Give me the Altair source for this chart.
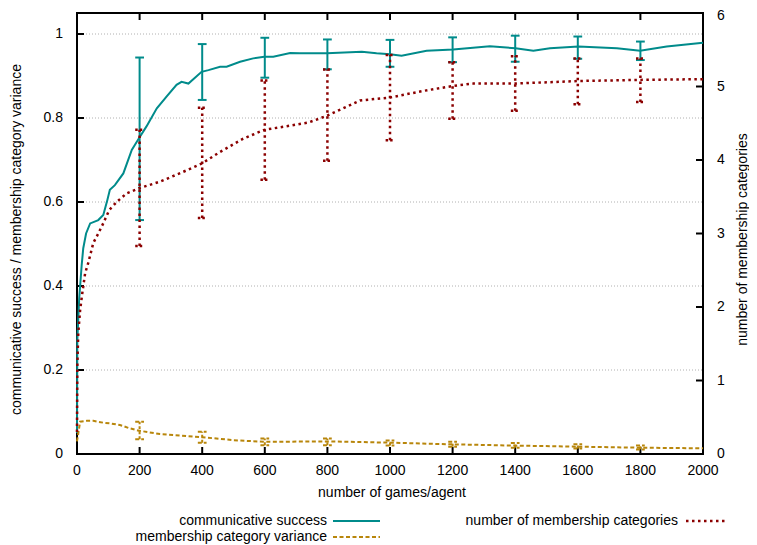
import altair as alt
import pandas as pd

# ---------------- data ----------------
cs_x = [0, 1, 7, 15, 20, 29, 42, 68, 84, 97, 105, 121, 148, 175, 198, 222, 255, 286, 318, 334, 356,
        398, 420, 457, 478, 521, 563, 598, 627, 681, 712, 744, 798, 910, 957, 1000, 1037, 1117, 1202,
        1319, 1401, 1458, 1511, 1602, 1725, 1799, 1884, 2000]
cs_y = [0.05, 0.27, 0.37, 0.45, 0.49, 0.525, 0.549, 0.557, 0.569, 0.605, 0.629, 0.64, 0.668, 0.724,
        0.752, 0.78, 0.823, 0.851, 0.879, 0.886, 0.882, 0.91, 0.914, 0.922, 0.922, 0.934, 0.942, 0.946,
        0.946, 0.955, 0.954, 0.954, 0.954, 0.958, 0.954, 0.952, 0.948, 0.96, 0.963, 0.971, 0.966, 0.960,
        0.966, 0.970, 0.966, 0.960, 0.970, 0.979]

nc_x = [0, 1, 4, 10, 17, 26, 36, 52, 68, 84, 103, 127, 159, 198, 265, 340, 400, 457, 531, 598, 670,
        739, 798, 904, 1000, 1106, 1200, 1266, 1401, 1602, 1801, 2000]
nc_y = [0.3, 1.19, 1.64, 1.96, 2.19, 2.46, 2.6, 2.87, 3.0, 3.14, 3.32, 3.43, 3.547, 3.615, 3.705, 3.84,
        3.955, 4.11, 4.29, 4.41, 4.46, 4.51, 4.60, 4.81, 4.85, 4.94, 5.007, 5.04, 5.04, 5.075, 5.09, 5.10]

mv_x = [0, 10, 31, 52, 84, 105, 137, 169, 198, 265, 400, 499, 598, 798, 872, 1000, 1200, 1399, 1597,
        1799, 2000]
mv_y = [0.03, 0.077, 0.079, 0.079, 0.0745, 0.073, 0.069, 0.061, 0.0555, 0.0476, 0.040, 0.033, 0.029,
        0.030, 0.029, 0.027, 0.023, 0.020, 0.0175, 0.015, 0.0135]

eb_x = [200, 400, 600, 800, 1000, 1200, 1400, 1600, 1800]
cs_lo = [0.557, 0.843, 0.896, 0.916, 0.922, 0.933, 0.934, 0.941, 0.938]
cs_hi = [0.944, 0.976, 0.991, 0.987, 0.986, 0.992, 0.996, 0.994, 0.982]
nc_lo = [2.83, 3.21, 3.73, 3.99, 4.27, 4.56, 4.67, 4.76, 4.79]
nc_hi = [4.41, 4.71, 5.08, 5.23, 5.43, 5.33, 5.41, 5.38, 5.38]
mv_lo = [0.035, 0.027, 0.021, 0.021, 0.020, 0.017, 0.015, 0.013, 0.011]
mv_hi = [0.077, 0.053, 0.037, 0.037, 0.032, 0.029, 0.026, 0.023, 0.020]

x_ticks = [0, 200, 400, 600, 800, 1000, 1200, 1400, 1600, 1800, 2000]
yl_ticks = [0, 0.2, 0.4, 0.6, 0.8, 1.0]
yr_ticks = [0, 1, 2, 3, 4, 5, 6]

series_labels = ["communicative success", "membership category variance",
                 "number of membership categories"]
x_title = "number of games/agent"
yl_title = "communicative success / membership category variance"
yr_title = "number of membership categories"

# ---------------- styling ----------------
W, H = 626, 441
FONT = "Liberation Sans"
FS = 14
TEAL = "#008b8b"
GOLD = "#b8860b"
RED = "#8b0000"
CAP = 14  # half cap width in data units

XS = alt.Scale(domain=[0, 2000], nice=False, zero=False)
YL = alt.Scale(domain=[0, 1.05], nice=False)
YR = alt.Scale(domain=[0, 6], nice=False)

cs_df = pd.DataFrame({"x": cs_x, "y": cs_y})
nc_df = pd.DataFrame({"x": nc_x, "y": nc_y})
mv_df = pd.DataFrame({"x": mv_x, "y": mv_y})
eb_df = pd.DataFrame({"x": eb_x, "cs_lo": cs_lo, "cs_hi": cs_hi, "nc_lo": nc_lo,
                      "nc_hi": nc_hi, "mv_lo": mv_lo, "mv_hi": mv_hi})
xt_df = pd.DataFrame({"x": x_ticks})
ylt_df = pd.DataFrame({"y": yl_ticks})
yrt_df = pd.DataFrame({"y": yr_ticks})
one = pd.DataFrame({"a": [0]})


def X(field="x"):
    return alt.X(f"{field}:Q", scale=XS, axis=None)


def YLf(field):
    return alt.Y(f"{field}:Q", scale=YL, axis=None)


def YRf(field):
    return alt.Y(f"{field}:Q", scale=YR, axis=None)


def txt(**kw):
    base = dict(font=FONT, fontSize=FS, color="black")
    base.update(kw)
    return base


# ---- left-axis group ----
grid = alt.Chart(ylt_df).transform_filter("datum.y > 0").mark_rule(
    color="#b0b0b0", strokeWidth=1, strokeDash=[1, 2]).encode(
    y=YLf("y"), x=alt.value(0), x2=alt.value(W))

cs_line = alt.Chart(cs_df).mark_line(color=TEAL, strokeWidth=2).encode(x=X(), y=YLf("y"))
cs_err = alt.Chart(eb_df).mark_rule(color=TEAL, strokeWidth=2).encode(
    x=X(), y=YLf("cs_lo"), y2="cs_hi:Q")
cs_caps = alt.Chart(eb_df).transform_fold(["cs_lo", "cs_hi"], as_=["k", "v"]).transform_calculate(
    xa=f"datum.x - {CAP}", xb=f"datum.x + {CAP}"
).mark_rule(color=TEAL, strokeWidth=2).encode(x=X("xa"), x2="xb:Q", y=YLf("v"))

mv_line = alt.Chart(mv_df).mark_line(color=GOLD, strokeWidth=2, strokeDash=[4, 2.5]).encode(
    x=X(), y=YLf("y"))
mv_err = alt.Chart(eb_df).mark_rule(color=GOLD, strokeWidth=2, strokeDash=[3, 2]).encode(
    x=X(), y=YLf("mv_lo"), y2="mv_hi:Q")
mv_caps = alt.Chart(eb_df).transform_fold(["mv_lo", "mv_hi"], as_=["k", "v"]).transform_calculate(
    xa=f"datum.x - {CAP}", xb=f"datum.x + {CAP}"
).mark_rule(color=GOLD, strokeWidth=2, strokeDash=[4, 2]).encode(
    x=X("xa"), x2="xb:Q", y=YLf("v"))

# inward ticks (bottom, top, left)
bottom_ticks = alt.Chart(xt_df).mark_rule(color="black", strokeWidth=2).encode(
    x=X(), y=alt.value(H), y2=alt.value(H - 7))
top_ticks = alt.Chart(xt_df).mark_rule(color="black", strokeWidth=2).encode(
    x=X(), y=alt.value(0), y2=alt.value(7))
left_ticks = alt.Chart(ylt_df).mark_rule(color="black", strokeWidth=2).encode(
    y=YLf("y"), x=alt.value(0), x2=alt.value(7))

# tick labels and titles
x_labels = alt.Chart(xt_df).mark_text(**txt(align="center", baseline="middle")).encode(
    x=X(), y=alt.value(H + 17), text=alt.Text("x:Q", format="d"))
yl_labels = alt.Chart(ylt_df).mark_text(**txt(align="right", baseline="middle")).encode(
    y=YLf("y"), x=alt.value(-14), text=alt.Text("y:Q", format="~g"))
x_title_m = alt.Chart(one).mark_text(**txt(text=x_title, align="center", baseline="middle")).encode(
    x=alt.value(W / 2 + 2), y=alt.value(H + 39))
yl_title_m = alt.Chart(one).mark_text(**txt(text=yl_title, align="center", baseline="middle",
                                            angle=270)).encode(
    x=alt.value(-60), y=alt.value(H / 2 + 6))


# legend
def leg_text(label, x, y):
    return alt.Chart(one).mark_text(**txt(text=label, align="right", baseline="middle")).encode(
        x=alt.value(x), y=alt.value(y))


def leg_line(color, x0, x1, y, dash=None, width=2):
    kw = dict(color=color, strokeWidth=width)
    if dash:
        kw["strokeDash"] = dash
    return alt.Chart(one).mark_rule(**kw).encode(x=alt.value(x0), x2=alt.value(x1), y=alt.value(y))


legend = alt.layer(
    leg_text(series_labels[0], 250, 508),
    leg_line(TEAL, 256, 303, 508),
    leg_text(series_labels[1], 250, 524),
    leg_line(GOLD, 256, 303, 524, dash=[4, 2.5]),
    leg_text(series_labels[2], 601, 508),
    leg_line(RED, 609, 650, 508, dash=[2.5, 3.5], width=2.5),
)

left = alt.layer(grid, left_ticks, bottom_ticks, top_ticks, x_labels, yl_labels, x_title_m,
                 yl_title_m, cs_line, cs_err, cs_caps, mv_line, mv_err, mv_caps, legend)

# ---- right-axis group ----
nc_line = alt.Chart(nc_df).mark_line(color=RED, strokeWidth=2.5, strokeDash=[2.5, 3.5],
                                     strokeCap="butt").encode(x=X(), y=YRf("y"))
nc_err = alt.Chart(eb_df).mark_rule(color=RED, strokeWidth=2.5, strokeDash=[2.5, 3.5]).encode(
    x=X(), y=YRf("nc_lo"), y2="nc_hi:Q")
nc_caps = alt.Chart(eb_df).transform_fold(["nc_lo", "nc_hi"], as_=["k", "v"]).transform_calculate(
    xa=f"datum.x - {CAP}", xb=f"datum.x + {CAP}"
).mark_rule(color=RED, strokeWidth=2.5, strokeDash=[2.5, 2]).encode(
    x=X("xa"), x2="xb:Q", y=YRf("v"))
right_ticks = alt.Chart(yrt_df).mark_rule(color="black", strokeWidth=2).encode(
    y=YRf("y"), x=alt.value(W), x2=alt.value(W - 7))
yr_labels = alt.Chart(yrt_df).transform_filter("datum.y < 6").mark_text(
    **txt(align="left", baseline="middle")).encode(
    y=YRf("y"), x=alt.value(W + 14), text=alt.Text("y:Q", format="d"))
yr_top_label = alt.Chart(yrt_df).transform_filter("datum.y == 6").mark_text(
    **txt(align="left", baseline="middle", dy=3)).encode(
    y=YRf("y"), x=alt.value(W + 14), text=alt.Text("y:Q", format="d"))
yr_title_m = alt.Chart(one).mark_text(**txt(text=yr_title, align="center", baseline="middle",
                                            angle=270)).encode(
    x=alt.value(W + 40), y=alt.value(H / 2 + 6))

right = alt.layer(right_ticks, yr_labels, yr_top_label, yr_title_m, nc_line, nc_err, nc_caps)

chart = alt.layer(left, right).resolve_scale(y="independent").properties(
    width=W, height=H, autosize=alt.AutoSizeParams(type="none"), background="white",
    padding={"left": 69, "top": 5, "right": 46, "bottom": 91},
).configure_view(stroke="black", strokeWidth=2)

chart.save("out.html", embed_options={"renderer": "svg", "actions": False})
